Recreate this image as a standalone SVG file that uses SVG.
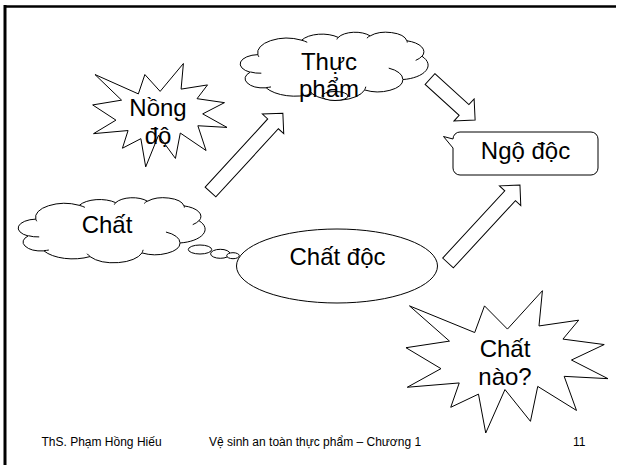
<svg xmlns="http://www.w3.org/2000/svg" width="618" height="465" viewBox="0 0 618 465">
  <style>
    .shape { fill: #fff; stroke: #000; stroke-width: 1; }
    .crease { fill: none; stroke: #000; stroke-width: 1; }
    .frame { fill: none; stroke: #000; }
    .lbl { font-family: "Liberation Sans", Arial, sans-serif; font-size: 24px; fill: #000; text-anchor: middle; }
    .foot { font-family: "Liberation Sans", Arial, sans-serif; font-size: 12px; fill: #000; }
  </style>
  <defs>
    <!-- cloud outline in a 43200 x 43200 box -->
    <path id="cloud" vector-effect="non-scaling-stroke" d="M3900,14370 A6753,9190 0 0 1 14006,5203 A5333,7267 0 0 1 22458,3435 A4365,5945 0 0 1 29835,2483 A4857,6595 0 0 1 38320,5579 A5333,7273 0 0 1 41820,15463 A6775,9220 0 0 1 37407,30207 A5785,7867 0 0 1 28558,36817 A6752,9215 0 0 1 16483,39270 A7720,10543 0 0 1 5805,35477 A4360,5918 0 0 1 2114,25555 A4345,5945 0 0 1 3900,14370 Z"/>
    <!-- inner fold lines of the cloud -->
    <path id="creases" vector-effect="non-scaling-stroke" d="M4693,26177 A4345,5945 0 0 1 2160,25380 M6928,34899 A4360,5918 0 0 1 5819,35281 M16478,39090 A6752,9215 0 0 1 15809,37347 M28827,34751 A6752,9215 0 0 1 28560,36659 M34129,22954 A5785,7867 0 0 1 37381,30090 M41798,15354 A5333,7273 0 0 1 40349,18031 M38324,5426 A4857,6595 0 0 1 38400,6690 M29078,3952 A4857,6595 0 0 1 29821,2338 M22141,4720 A4365,5945 0 0 1 22500,3331 M14000,5192 A6753,9190 0 0 1 15300,6541 M4127,15789 A6753,9190 0 0 1 3900,14372"/>
    <!-- explosion burst in a 21600 x 21600 box -->
    <polygon id="burst" vector-effect="non-scaling-stroke" points="10901,5905 8458,2399 7417,6425 476,2399 4732,7722 106,8718 3828,11880 243,14689 5772,14041 4868,17719 7819,15730 8590,21600 10637,15038 13349,19840 14125,14561 18248,18195 16938,13044 21600,13393 17710,10579 21198,8242 16806,7417 18482,4560 14257,5429 14623,106"/>
  </defs>

  <!-- slide frame -->
  <path class="frame" stroke-width="3" d="M5,465 V5"/>
  <path class="frame" stroke-width="2.5" d="M4,6.5 H616"/>

  <g id="node-nong-do">
    <use href="#burst" class="shape" transform="translate(92,63) scale(0.00625,0.00481)"/>
    <text class="lbl" x="158" y="116">Nồng</text>
    <text class="lbl" x="158" y="144">độ</text>
  </g>

  <g id="node-thuc-pham">
    <use href="#cloud" class="shape" transform="translate(241,32) scale(0.004329,0.001574)"/>
    <use href="#creases" class="crease" transform="translate(241,32) scale(0.004329,0.001574)"/>
    <ellipse class="shape" cx="335" cy="96" rx="13" ry="4.5"/>
    <text class="lbl" x="329" y="70">Thực</text>
    <text class="lbl" x="329" y="97">phẩm</text>
  </g>

  <g id="node-ngo-doc">
    <path class="shape" d="M460,132 H591 A7,7 0 0 1 598,139 V168 A7,7 0 0 1 591,175 H460 A7,7 0 0 1 453,168 V148 L443.5,136.5 L453,139 A7,7 0 0 1 460,132 Z"/>
    <text class="lbl" x="525.5" y="159">Ngộ độc</text>
  </g>

  <g id="node-chat">
    <use href="#cloud" class="shape" transform="translate(19,197.5) scale(0.004306,0.001505)"/>
    <use href="#creases" class="crease" transform="translate(19,197.5) scale(0.004306,0.001505)"/>
    <ellipse class="shape" cx="200" cy="249.5" rx="11.7" ry="4.5"/>
    <ellipse class="shape" cx="220.3" cy="253.8" rx="9.7" ry="4.5"/>
    <ellipse class="shape" cx="233" cy="255.7" rx="6.3" ry="3"/>
    <text class="lbl" x="107" y="232.5">Chất</text>
  </g>

  <g id="node-chat-doc">
    <ellipse class="shape" cx="337" cy="266" rx="100.5" ry="37"/>
    <text class="lbl" x="337.5" y="264.5">Chất độc</text>
  </g>

  <g id="node-chat-nao">
    <use href="#burst" class="shape" transform="translate(405,290) scale(0.009398,0.00662)"/>
    <text class="lbl" x="505" y="357">Chất</text>
    <text class="lbl" x="505" y="385">nào?</text>
  </g>

  <g id="connectors">
    <!-- Chất -> Thực phẩm -->
    <polygon class="shape" transform="translate(210.5,192) rotate(-47.45)" points="0,-7.25 92.5,-7.25 92.5,-14.5 107,0 92.5,14.5 92.5,7.25 0,7.25"/>
    <!-- Thực phẩm -> Ngộ độc -->
    <polygon class="shape" transform="translate(430,79) rotate(42.3)" points="0,-7.25 46,-7.25 46,-15 61,0 46,15 46,7.25 0,7.25"/>
    <!-- Chất độc -> Ngộ độc -->
    <polygon class="shape" transform="translate(448,263) rotate(-47.3)" points="0,-7.25 91.6,-7.25 91.6,-14.5 106.1,0 91.6,14.5 91.6,7.25 0,7.25"/>
  </g>

  <g id="footer">
    <text class="foot" x="41.5" y="446">ThS. Phạm Hồng Hiếu</text>
    <text class="foot" x="209" y="446">Vệ sinh an toàn thực phẩm – Chương 1</text>
    <text class="foot" x="573" y="446">11</text>
  </g>
</svg>
